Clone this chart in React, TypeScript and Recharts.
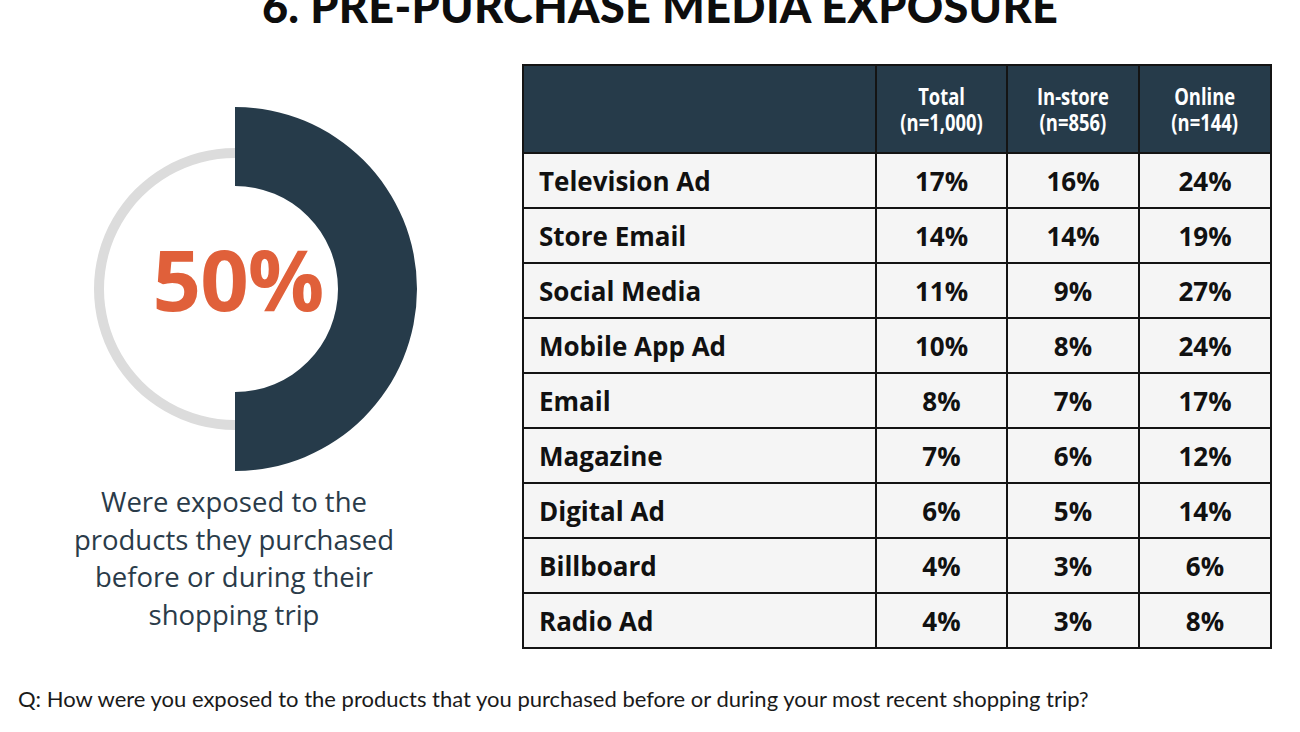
import React from "react";
import { PieChart, Pie, Cell } from "recharts";

const title = "6. PRE-PURCHASE MEDIA EXPOSURE";
const exposedShare = [
  { name: "Exposed", value: 50 },
  { name: "Not exposed", value: 50 },
];
const ringTrack = [{ name: "track", value: 100 }];
const caption = ["Were exposed to the", "products they purchased", "before or during their", "shopping trip"];

const columns = [
  { name: "Total", n: "(n=1,000)" },
  { name: "In-store", n: "(n=856)" },
  { name: "Online", n: "(n=144)" },
];
const media = [
  "Television Ad",
  "Store Email",
  "Social Media",
  "Mobile App Ad",
  "Email",
  "Magazine",
  "Digital Ad",
  "Billboard",
  "Radio Ad",
];
const total = [17, 14, 11, 10, 8, 7, 6, 4, 4];
const inStore = [16, 14, 9, 8, 7, 6, 5, 3, 3];
const online = [24, 19, 27, 24, 17, 12, 14, 6, 8];

const question =
  "Q: How were you exposed to the products that you purchased before or during your most recent shopping trip?";

const DARK = "#263b4a";
const ORANGE = "#e0603a";
const border = "2.5px solid #141414";

const cellStyle: React.CSSProperties = {
  border,
  background: "#f5f5f5",
  height: 53,
  padding: 0,
  fontFamily: "'Open Sans', sans-serif",
  fontWeight: 700,
  fontSize: 26,
  color: "#111",
  textAlign: "center",
};

export default function App() {
  const rows = media.map((m, i) => ({ m, vals: [total[i], inStore[i], online[i]] }));
  return (
    <div
      style={{
        position: "absolute",
        left: 0,
        top: 0,
        width: 1300,
        height: 732,
        overflow: "hidden",
        background: "#fff",
      }}
    >
      <div
        style={{
          position: "absolute",
          left: 0,
          width: 1320,
          top: -21,
          textAlign: "center",
          fontFamily: "Lato, sans-serif",
          fontWeight: 900,
          fontSize: 45,
          color: "#0d0d0d",
          letterSpacing: 0.3,
        }}
      >
        {title}
      </div>

      <div style={{ position: "absolute", left: 30, top: 84 }}>
        <PieChart width={400} height={400}>
          <Pie
            data={ringTrack}
            dataKey="value"
            cx={200}
            cy={200}
            innerRadius={131}
            outerRadius={141}
            startAngle={90}
            endAngle={-270}
            stroke="none"
            isAnimationActive={false}
          >
            <Cell fill="#dcdcdc" />
          </Pie>
          <Pie
            data={exposedShare}
            dataKey="value"
            cx={200}
            cy={200}
            innerRadius={103}
            outerRadius={182}
            startAngle={90}
            endAngle={-270}
            stroke="none"
            isAnimationActive={false}
          >
            <Cell fill={DARK} />
            <Cell fill="transparent" />
          </Pie>
        </PieChart>
      </div>
      <div
        style={{
          position: "absolute",
          left: 138,
          width: 200,
          top: 228,
          textAlign: "center",
          fontFamily: "'Open Sans', sans-serif",
          fontWeight: 700,
          fontSize: 85,
          lineHeight: "100px",
          color: ORANGE,
          letterSpacing: -1,
        }}
      >
        {exposedShare[0].value}%
      </div>
      <div
        style={{
          position: "absolute",
          left: 34,
          width: 400,
          top: 483,
          textAlign: "center",
          fontFamily: "'Open Sans', sans-serif",
          fontSize: 27.5,
          lineHeight: "37.5px",
          color: "#2a3b49",
        }}
      >
        {caption.map((c) => (
          <div key={c}>{c}</div>
        ))}
      </div>

      <table
        style={{
          position: "absolute",
          left: 522,
          top: 64,
          width: 750,
          borderCollapse: "collapse",
          tableLayout: "fixed",
        }}
      >
        <colgroup>
          <col style={{ width: 353 }} />
          <col style={{ width: 131 }} />
          <col style={{ width: 132 }} />
          <col style={{ width: 132 }} />
        </colgroup>
        <thead>
          <tr>
            <th style={{ border, background: DARK, height: 84 }} />
            {columns.map((c) => (
              <th
                key={c.name}
                style={{
                  border,
                  background: DARK,
                  color: "#fff",
                  fontFamily: "'Open Sans', sans-serif",
                  fontWeight: 700,
                  fontSize: 23,
                  lineHeight: "26px",
                  padding: 0,
                }}
              >
                <span style={{ display: "inline-block", transform: "scaleX(0.8)", whiteSpace: "nowrap" }}>
                  {c.name}
                  <br />
                  {c.n}
                </span>
              </th>
            ))}
          </tr>
        </thead>
        <tbody>
          {rows.map((r) => (
            <tr key={r.m}>
              <td style={{ ...cellStyle, textAlign: "left", paddingLeft: 15 }}>{r.m}</td>
              {r.vals.map((v, j) => (
                <td key={j} style={cellStyle}>
                  {v}%
                </td>
              ))}
            </tr>
          ))}
        </tbody>
      </table>

      <div
        style={{
          position: "absolute",
          left: 18,
          top: 685,
          fontFamily: "Lato, sans-serif",
          fontSize: 22,
          color: "#1a1a1a",
          whiteSpace: "nowrap",
        }}
      >
        {question}
      </div>
    </div>
  );
}
